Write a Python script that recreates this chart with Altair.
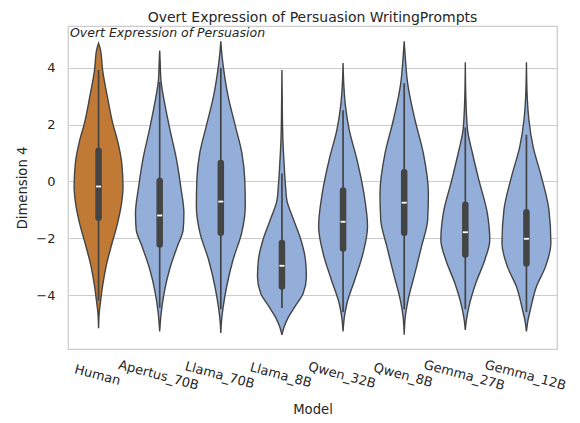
import altair as alt
import pandas as pd

models = ["Human", "Apertus_70B", "Llama_70B", "Llama_8B", "Qwen_32B", "Qwen_8B", "Gemma_27B", "Gemma_12B"]

# violin outlines: value grid and relative half-width (1 = widest)
human_y = [4.86, 4.62, 3.92, 2.98, 2.04, 1.45, 0.63, -0.19, -0.83, -1.53, -2.24, -2.94, -3.65, -4.24, -4.59, -5.17]
human_w = [0, 0.08, 0.165, 0.36, 0.58, 0.77, 0.95, 1.0, 0.93, 0.76, 0.53, 0.32, 0.17, 0.08, 0.03, 0]
apertus70_y = [4.61, 4.2, 3.58, 2.76, 1.82, 0.76, -0.18, -1.12, -1.7, -2.29, -3.11, -3.93, -4.64, -5.28]
apertus70_w = [0, 0.02, 0.05, 0.2, 0.42, 0.69, 0.86, 0.99, 0.96, 0.72, 0.4, 0.18, 0.06, 0]
llama70_y = [4.93, 4.5, 3.99, 2.99, 1.93, 1.0, 0.06, -0.88, -1.82, -2.76, -3.7, -4.4, -4.9, -5.34]
llama70_w = [0, 0.04, 0.11, 0.3, 0.6, 0.86, 0.98, 1.0, 0.85, 0.5, 0.24, 0.1, 0.03, 0]
llama8_y = [3.92, 3.0, 2.2, 1.45, 0.9, 0.28, -0.2, -0.66, -1.36, -2.07, -2.75, -3.36, -3.94, -4.41, -4.77, -5.12, -5.4]
llama8_w = [0, 0.01, 0.02, 0.04, 0.07, 0.11, 0.15, 0.2, 0.48, 0.78, 0.96, 1.0, 0.87, 0.53, 0.27, 0.09, 0]
qwen32_y = [4.17, 3.4, 2.64, 1.82, 0.76, -0.41, -1.59, -2.52, -3.46, -4.29, -4.8, -5.28]
qwen32_w = [0, 0.03, 0.1, 0.25, 0.57, 0.85, 1.0, 0.82, 0.48, 0.16, 0.05, 0]
qwen8_y = [4.93, 4.3, 3.46, 2.17, 1.0, -0.41, -1.35, -2.29, -3.23, -4.17, -4.8, -5.4]
qwen8_w = [0, 0.05, 0.14, 0.44, 0.78, 0.99, 0.96, 0.71, 0.44, 0.16, 0.04, 0]
gemma27_y = [4.19, 3.0, 1.82, 1.0, 0.06, -1.12, -2.06, -2.76, -3.58, -4.4, -4.85, -5.23]
gemma27_w = [0, 0.02, 0.09, 0.29, 0.55, 0.9, 1.0, 0.8, 0.43, 0.15, 0.05, 0]
gemma12_y = [4.19, 3.0, 2.17, 1.23, 0.17, -1.0, -2.17, -3.0, -3.7, -4.52, -4.95, -5.28]
gemma12_w = [0, 0.03, 0.1, 0.27, 0.61, 0.92, 1.0, 0.78, 0.41, 0.16, 0.05, 0]

# inner box statistics
q1 = [-1.28, -2.22, -1.81, -3.7, -2.36, -1.81, -2.57, -2.89]
q3 = [1.08, 0.01, 0.65, -2.17, -0.32, 0.32, -0.82, -1.09]
median = [-0.18, -1.2, -0.71, -2.97, -1.42, -0.75, -1.79, -2.02]
whisker_lo = [-4.2, -4.45, -4.5, -4.46, -4.6, -4.5, -4.5, -4.6]
whisker_hi = [3.92, 3.5, 4.0, 0.28, 2.5, 3.46, 1.9, 1.64]

profiles = [(human_y, human_w), (apertus70_y, apertus70_w), (llama70_y, llama70_w),
            (llama8_y, llama8_w), (qwen32_y, qwen32_w), (qwen8_y, qwen8_w),
            (gemma27_y, gemma27_w), (gemma12_y, gemma12_w)]

rows = []
for i, (m, (ys, ws)) in enumerate(zip(models, profiles)):
    for y, w in zip(ys, ws):
        rows.append({"model": m, "idx": i, "y": y, "w": w})
vdf = pd.DataFrame(rows)

bdf = pd.DataFrame({"model": models, "idx": list(range(len(models))), "q1": q1, "q3": q3,
                    "med": median, "lo": whisker_lo, "hi": whisker_hi})

FONT = "DejaVu Sans"
TXT = "#262626"
LINE = "#444444"

xscale = alt.Scale(domain=[-0.5, 7.5], nice=False, zero=False)
yscale = alt.Scale(domain=[-5.9, 5.47], nice=False, zero=False)
label_expr = "[" + ",".join("'%s'" % m for m in models) + "][datum.value]"
xaxis = alt.Axis(values=list(range(len(models))), labelExpr=label_expr, grid=False,
                 labelAngle=15, labelAlign="center", labelBaseline="top", labelOverlap=False,
                 labelPadding=20, tickSize=0, titlePadding=11, labelFontSize=13,
                 titleFontSize=13.2)
yaxis = alt.Axis(values=[-4, -2, 0, 2, 4], grid=True, labelPadding=13, tickSize=0,
                 titlePadding=6, labelFontSize=13, titleFontSize=13.2)


def X(field):
    return alt.X(field, type="quantitative", scale=xscale, axis=xaxis, title="Model")


def Y(field):
    return alt.Y(field, type="quantitative", scale=yscale, axis=yaxis, title="Dimension 4")


violin = alt.Chart(vdf).transform_calculate(
    xl="datum.idx - 0.4 * datum.w", xr="datum.idx + 0.4 * datum.w"
).mark_area(orient="horizontal", interpolate="monotone", stroke=LINE, strokeWidth=1.4).encode(
    y=Y("y"),
    x=X("xl"),
    x2="xr:Q",
    color=alt.Color("model:N", scale=alt.Scale(domain=models, range=["#c17a36"] + ["#93aed8"] * 7), legend=None),
)

whisk = alt.Chart(bdf).mark_rule(color=LINE, strokeWidth=1.7).encode(x=X("idx"), y=Y("lo"), y2="hi:Q")
box = alt.Chart(bdf).mark_rule(color=LINE, strokeWidth=6.5, strokeCap="round").encode(x=X("idx"), y=Y("q1"), y2="q3:Q")
med = alt.Chart(bdf).mark_tick(orient="horizontal", color="white", size=5, thickness=1.8, opacity=1).encode(x=X("idx"), y=Y("med"))

inner = alt.Chart(pd.DataFrame({"t": ["Overt Expression of Persuasion"]})).mark_text(
    align="left", baseline="middle", font=FONT, fontSize=12.5, fontStyle="italic", color=TXT
).encode(text="t:N", x=alt.value(2), y=alt.value(7))

chart = alt.layer(violin, whisk, box, med, inner).properties(
    width=489, height=323,
    autosize=alt.AutoSizeParams(type="none"),
    padding={"left": 60, "top": 18, "right": 10, "bottom": 74},
    title=alt.TitleParams("Overt Expression of Persuasion WritingPrompts", font=FONT, fontSize=14,
                          fontWeight="normal", color=TXT, offset=1, anchor="middle"),
).configure_view(stroke="#cccccc", strokeWidth=1.25).configure_axis(
    domain=False, ticks=False, gridColor="#cccccc", gridWidth=1, labelFont=FONT, titleFont=FONT,
    labelColor=TXT, titleColor=TXT, titleFontWeight="normal"
)

chart.save("out.html", embed_options={"renderer": "svg", "actions": False})
